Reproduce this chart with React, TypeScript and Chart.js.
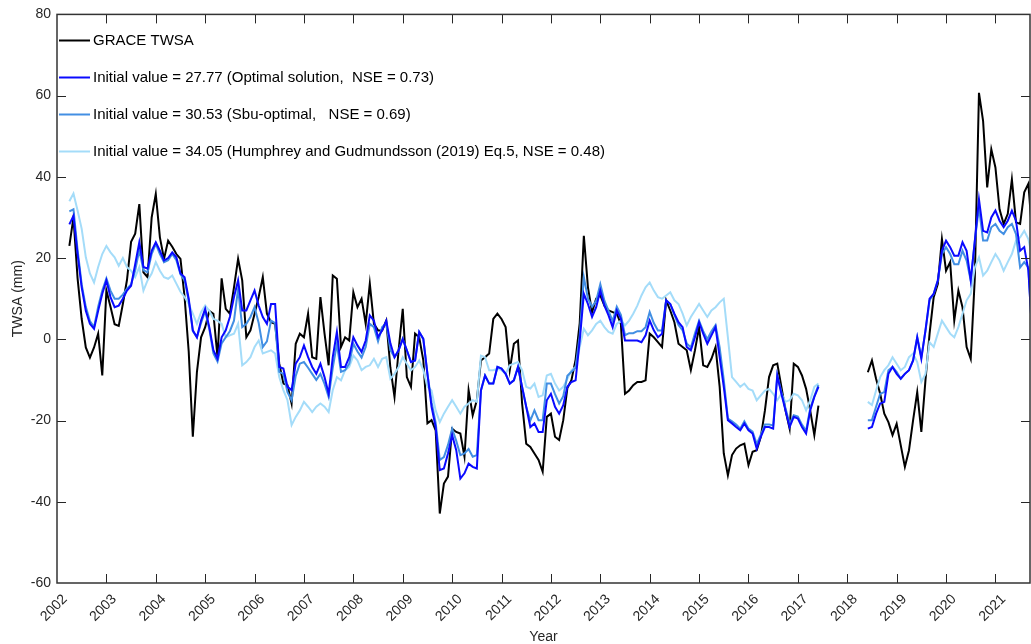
import React, { useEffect, useRef } from "react";
import { Chart, registerables } from "chart.js";

Chart.register(...registerables);

// Monthly series: segment 1 starts April 2002 (GRACE), segment 2 starts June 2018 (GRACE-FO)
const SEG1_START = 2002.25;
const SEG2_START = 2018 + 5 / 12;

const graceSeg1 = [
  23, 30, 15, 5, -2, -4.5, -2, 1.4, -8.9, 12, 8, 3.7, 3.3, 8.7, 14.6, 24, 26, 33.3, 16.5, 15.3,
  30, 35.8, 25.1, 19.8, 24.3, 22.8, 21, 19.8, 10.4, -3, -24, -8, 0.5, 3, 7, 6.3, -4.4, 15, 7.5, 6.3,
  12.8, 19.8, 14.5, 0.5, 2.2, 6.3, 10.4, 15.3, 6.3, 4.2, 3.8, -6, -10.9, -11.3, -15.8, -1.1, 1.4, 0.5, 6.3, -4.4,
  -4.8, 10.4, 1.4, -6.4, 15.7, 14.9, -1.9, 0.5, -0.3, 11.6, 7.9, 10, 3.8, 13.7, 3.8, 2.2, 2.2, 4.6, -7, -14.2,
  -2.7, 7.5, -9.3, -11.7, 1.4, 0.5, -5.2, -20.7, -19.9, -22.4, -42.9, -35.5, -33.8, -22, -22.8, -23.2, -28.9, -12.5, -18.7, -15,
  -5.2, -4.4, -3.5, 5, 6.3, 5, 3, -7.6, -1.1, -0.3, -15.8, -25.7, -26.5, -28.1, -29.7, -32.6, -19.1, -18.3, -24, -24.8,
  -19.9, -12, -10, -5, 4, 25.5, 12.8, 6.7, 10, 10.8, 8.3, 7.1, 6.7, 6.3, 3.8, -13.4, -12.6, -11.3, -10.5, -10.5,
  -10.1, 1.4, 0.5, -0.7, -1.9, 9.6, 7.1, 4.2, -1.1, -1.9, -2.7, -7.6, -2.7, 3, -6.4, -6.8, -4.8, -1.9, -11.7, -28.1,
  -33.5, -28.5, -26.9, -26.1, -25.7, -31, -27.7, -27.3, -24, -17.5, -9.3, -6.4, -6, -11.7, -17.5, -22, -6, -6.8, -8.9, -12.2,
  -17.5, -23.6, -16.3,
];

const optimalSeg1 = [
  28.3, 30.4, 21, 12.8, 7, 3.8, 2.6, 7, 11.2, 14.5, 10.4, 7.9, 8.3, 10, 12, 13.2, 18.5, 23.9, 17.8, 17.4,
  21.8, 23.9, 21.8, 19.4, 20, 21.4, 20.2, 16.2, 15.3, 10, 2.2, 0.5, 4.6, 7.5, 3, -2.7, -4.8, 0.5, 2.2, 5.5,
  10.4, 14.5, 7.1, 7.1, 9.6, 12, 8.3, 5.5, 3.8, 8.7, 8.7, -6.8, -7.2, -11.7, -12.5, -6, -4.4, -1.5, -4.4, -6.8,
  -8.5, -6, -9.3, -13.4, -4.4, 1.8, -6.8, -6.8, -4.4, 0.5, -1.5, -3.1, -0.3, 5.9, 4.6, 0.5, 2.2, 4.6, -1, -4.4,
  -2.7, 0.1, -2.7, -5.6, -5.2, 1.8, 0.1, -8.5, -16.6, -21.6, -32.2, -31.8, -28.1, -23.6, -27.3, -34.3, -33, -30.6, -31.4, -31.8,
  -12.6, -8.9, -10.9, -10.9, -6.8, -7.2, -8.5, -10.9, -10.1, -6.8, -11.7, -16.6, -21.6, -20.7, -22.8, -22.8, -15, -13.4, -16.6, -18.3,
  -16.2, -11.7, -10.5, -10.1, -0.3, 11.2, 8.7, 5.5, 7.9, 12, 8.3, 5.9, 3, 7.1, 5.1, -0.3, -0.3, -0.3, -0.3, -0.7,
  1, 4.6, 2.2, 0.5, 1.4, 9.6, 8.7, 6.3, 4.2, 3, -1.9, -2.7, 0.5, 4.2, 1.4, -1.1, 1, 3, -4.4, -11.7,
  -19.9, -20.7, -21.6, -22.4, -20.7, -22.4, -23.2, -26.9, -24, -21.6, -21.6, -22, -8.9, -13.4, -17.5, -21.6, -19.1, -19.5, -21.6, -23.2,
  -17.5, -14.2, -11.7,
];

const subOptimalSeg1 = [
  31.5, 32, 22, 13.5, 8, 4.5, 3, 8, 12, 15, 12, 10, 10, 11, 12.5, 13.5, 17, 22, 17, 16.5,
  21, 23.5, 21, 19, 19.5, 21, 19.5, 16, 14.5, 9.5, 2, 0.5, 4, 7, 2.5, -3.5, -5.5, -1, 0.5, 2,
  4.6, 12.4, 3, 3.8, 5.5, 7.9, 4, -1.9, -0.5, 4.6, 4, -8, -8.5, -13, -15, -9, -6, -5.6, -7, -8.5,
  -10, -8.5, -11, -14.2, -7, -1.1, -8, -7.6, -6, -1.1, -3, -4.5, -1.9, 3.8, 3, -0.5, 3, 4, -2.7, -4.4,
  -2.7, 0.1, -2.7, -5.6, -5.2, 1.8, 0.1, -8.5, -15.5, -20.5, -29.7, -29, -26, -22, -25, -28.5, -28.1, -27, -28.9, -28.5,
  -12.6, -8.9, -10.9, -10.9, -6.8, -7.2, -8.5, -10.9, -10.1, -6.8, -11.7, -16.6, -20, -17.5, -19.9, -19.9, -10.9, -10.9, -13.5, -15.8,
  -14, -9, -8, -7, 1, 15.3, 10, 8, 9.5, 13.6, 9.5, 7, 4.5, 8, 6, 1, 1.5, 1.5, 2, 2,
  3, 6.7, 4, 2.2, 2.2, 9.6, 8.7, 6, 3.5, 2.2, -1, -2, 1.5, 4.6, 2, 0, 2, 3.5, -2, -10,
  -19.5, -20.2, -21, -22, -20.2, -22, -22.7, -25.8, -23.5, -21, -21, -21.2, -8.9, -13, -17, -20.8, -18.7, -19, -21, -22.5,
  -17, -14, -11.3,
];

const humphreySeg1 = [
  34, 35.9, 31.7, 27.2, 20.2, 16.2, 14, 17.8, 21, 23, 21.4, 20.2, 18.1, 20, 17.8, 16.9, 15.3, 17.8, 12, 14.5,
  16.2, 19, 16.9, 15.3, 14.9, 15.7, 13.7, 11.7, 10.4, 8.7, 6.3, 3.8, 6.7, 8.3, 7, 5, 4.6, 3.8, 0.5, 1,
  1.4, 3.8, -6.4, -5.6, -4.4, -1.9, -0.3, -3.5, -3.1, -2.7, -3.5, -9.3, -12.5, -15, -21.1, -19.1, -17.5, -15.4, -16.6, -17.9,
  -16.6, -15.8, -16.6, -17.9, -12.5, -9.3, -10.1, -7.6, -6.8, -4, -5.2, -7.6, -6.8, -6.4, -4.8, -6.8, -4.8, -4.4, -9.7, -8.5,
  -6.8, -4.4, -6, -7.6, -6.8, -5.2, -7.6, -11.7, -12.6, -17.5, -20.4, -18.3, -16.6, -15, -16.6, -18.3, -16.6, -15.8, -15, -15.4,
  -4, -4.4, -7.6, -7.6, -7.2, -7.6, -8.5, -6.4, -6, -5.6, -7.6, -11.7, -12.1, -10.9, -14.2, -13.8, -8.9, -8.5, -10.9, -12.6,
  -11.7, -9.7, -7.6, -6.8, -1.9, 2.6, 1, 2.2, 3.8, 4.6, 3, 1.8, 1.4, 3.8, 4.6, 3.4, 4.6, 6.3, 8.3, 10.8,
  12.8, 14, 12, 10.4, 10, 10.8, 11.6, 9.6, 8.7, 6.3, 3.4, 5.5, 7.1, 8.7, 7.1, 5.5, 7.1, 7.9, 9.1, 10,
  0.5, -9.3, -10.5, -11.7, -10.9, -12.2, -12.6, -15, -13.8, -12.6, -12.2, -13.4, -15, -13.4, -15.4, -15, -13.4, -13.8, -15, -17.5,
  -15, -11.7, -10.9,
];

const graceSeg2 = [
  -8.1, -5.2, -9.7, -13.4, -18.3, -20.4, -23.6, -20.8, -26.1, -31.4, -27.3, -19.9, -13, -22.8, -10.1, 1.4, 10.4, 13.6, 24.7, 16.9,
  19, 4.6, 12, 7.9, -1.9, -4.8, 15.3, 60.7, 53.8, 37.4, 46.8, 42.3, 32, 28.4, 30.9, 39.4, 28.8, 28.4, 36.2, 38.3, 25,
];

const optimalSeg2 = [
  -22, -21.6, -18.3, -15.8, -15.4, -8.5, -6.8, -8.5, -9.7, -8.5, -7.6, -5.2, 0.5, -4.8, 2.2, 10, 11.2, 14.5, 21.8, 24.3,
  22.7, 20.6, 20.6, 23.9, 21.8, 14.5, 24.3, 34.5, 26.7, 26.3, 30, 31.7, 29.2, 27.6, 29.2, 31.7, 29.2, 21.8, 22.7, 17, 0,
];

const subOptimalSeg2 = [
  -19.9, -19.9, -16.6, -13.4, -13, -7.6, -6.8, -8, -9.7, -8.5, -7.6, -5.2, 0.5, -4.4, 2, 9.6, 11.2, 14.5, 21, 22.7,
  21, 18.5, 18.5, 21.8, 19.4, 14.5, 24.3, 32.5, 24.3, 24.3, 27.6, 28.4, 26.7, 25.9, 27.6, 28.4, 25.9, 17.7, 19, 17.7, 0,
];

const humphreySeg2 = [
  -15.4, -16.2, -12.6, -9.3, -7.6, -6.4, -4.4, -6, -7.6, -6.8, -4.4, -3.5, -5.6, -10.5, -8.5, -0.7, -1.9, 1.4, 4.6, 3,
  1.4, 0.5, 3, 6.3, 9.6, 11.2, 17.7, 20.2, 15.7, 16.9, 19, 21, 19.4, 16.9, 19, 21, 24.3, 25.1, 26.7, 24.7, 20,
];

const yearTicks = [
  2002, 2003, 2004, 2005, 2006, 2007, 2008, 2009, 2010, 2011, 2012, 2013, 2014, 2015, 2016, 2017, 2018, 2019, 2020, 2021,
];
const yTicks = [-60, -40, -20, 0, 20, 40, 60, 80];

const seriesLabels = [
  "GRACE TWSA",
  "Initial value = 27.77 (Optimal solution,  NSE = 0.73)",
  "Initial value = 30.53 (Sbu-optimal,   NSE = 0.69)",
  "Initial value = 34.05 (Humphrey and Gudmundsson (2019) Eq.5, NSE = 0.48)",
];
const seriesColors = ["#000000", "#0a0aff", "#428fe3", "#a4dcf9"];

const FONT = "'Liberation Sans', Arial, Helvetica, sans-serif";

function toPoints(seg1: number[], seg2: number[]) {
  const pts: { x: number; y: number | null }[] = [];
  seg1.forEach((v, i) => pts.push({ x: SEG1_START + i / 12, y: v }));
  pts.push({ x: 2017.9, y: null });
  seg2.forEach((v, i) => pts.push({ x: SEG2_START + i / 12, y: v }));
  return pts;
}

const boxPlugin = {
  id: "matlabBox",
  afterDatasetsDraw(chart: any) {
    const { ctx, chartArea } = chart;
    const { left, right, top, bottom } = chartArea;
    const xs = chart.scales.x;
    const ys = chart.scales.y;
    ctx.save();
    ctx.strokeStyle = "#262626";
    ctx.lineWidth = 1;
    const tl = 9;
    ctx.beginPath();
    yearTicks.forEach((v) => {
      const px = Math.round(xs.getPixelForValue(v)) + 0.5;
      if (px <= left + 1 || px >= right - 1) return;
      ctx.moveTo(px, bottom);
      ctx.lineTo(px, bottom - tl);
      ctx.moveTo(px, top);
      ctx.lineTo(px, top + tl);
    });
    yTicks.forEach((v) => {
      const py = Math.round(ys.getPixelForValue(v)) + 0.5;
      if (py <= top + 1 || py >= bottom - 1) return;
      ctx.moveTo(left, py);
      ctx.lineTo(left + tl, py);
      ctx.moveTo(right, py);
      ctx.lineTo(right - tl, py);
    });
    ctx.stroke();
    ctx.lineWidth = 1.5;
    ctx.strokeStyle = "#333333";
    ctx.strokeRect(left, top, right - left, bottom - top);
    ctx.restore();
  },
};

const legendPlugin = {
  id: "matlabLegend",
  afterDraw(chart: any) {
    const { ctx } = chart;
    ctx.save();
    ctx.font = `15px ${FONT}`;
    ctx.textBaseline = "middle";
    ctx.textAlign = "left";
    const rows = [40, 77, 114, 151];
    chart.data.datasets.forEach((ds: any, i: number) => {
      const y = rows[i];
      ctx.strokeStyle = ds.borderColor;
      ctx.lineWidth = 2;
      ctx.beginPath();
      ctx.moveTo(59, y + 0.5);
      ctx.lineTo(90, y + 0.5);
      ctx.stroke();
      ctx.fillStyle = "#000000";
      ctx.fillText(ds.label, 93, y + 1);
    });
    ctx.restore();
  },
};

export default function App() {
  const ref = useRef<HTMLCanvasElement | null>(null);

  useEffect(() => {
    if (!ref.current) return;
    const seriesData = [
      toPoints(graceSeg1, graceSeg2),
      toPoints(optimalSeg1, optimalSeg2),
      toPoints(subOptimalSeg1, subOptimalSeg2),
      toPoints(humphreySeg1, humphreySeg2),
    ];
    const drawOrder = [3, 0, 1, 2];
    const chart = new Chart(ref.current, {
      type: "line",
      data: {
        datasets: seriesData.map((d, i) => ({
          label: seriesLabels[i],
          data: d,
          borderColor: seriesColors[i],
          backgroundColor: seriesColors[i],
          borderWidth: 2,
          pointRadius: 0,
          tension: 0,
          spanGaps: false,
          order: drawOrder[i],
        })),
      },
      options: {
        animation: false,
        responsive: false,
        devicePixelRatio: 1,
        layout: { padding: { top: 13, right: 1, left: 0, bottom: 0 } },
        plugins: {
          legend: { display: false },
          tooltip: { enabled: false },
        },
        scales: {
          x: {
            type: "linear",
            min: 2002,
            max: 2021.7,
            grid: { display: false, drawTicks: false },
            border: { display: false },
            afterBuildTicks: (scale: any) => {
              scale.ticks = yearTicks.map((v) => ({ value: v }));
            },
            afterFit: (scale: any) => {
              scale.height = 61;
            },
            ticks: {
              autoSkip: false,
              maxRotation: 45,
              minRotation: 45,
              padding: 8,
              labelOffset: 8,
              color: "#262626",
              font: { family: FONT, size: 14 },
              callback: (v: any) => String(v),
            },
            title: {
              display: true,
              text: "Year",
              color: "#262626",
              font: { family: FONT, size: 14 },
              padding: { top: 0, bottom: -2 },
            },
          },
          y: {
            min: -60,
            max: 80,
            grid: { display: false, drawTicks: false },
            border: { display: false },
            afterBuildTicks: (scale: any) => {
              scale.ticks = yTicks.map((v) => ({ value: v }));
            },
            afterFit: (scale: any) => {
              scale.width = 57;
            },
            ticks: {
              padding: 6,
              color: "#262626",
              font: { family: FONT, size: 14 },
              callback: (v: any) => String(v),
            },
            title: {
              display: true,
              text: "TWSA (mm)",
              color: "#262626",
              font: { family: FONT, size: 14 },
              padding: { top: 10, bottom: 0 },
            },
          },
        },
      },
      plugins: [boxPlugin, legendPlugin],
    });
    return () => chart.destroy();
  }, []);

  return (
    <div style={{ position: "absolute", left: 0, top: 0, width: 1031, height: 644, overflow: "hidden", background: "#fff" }}>
      <canvas ref={ref} width={1031} height={644} style={{ width: 1031, height: 644, display: "block" }} />
    </div>
  );
}
